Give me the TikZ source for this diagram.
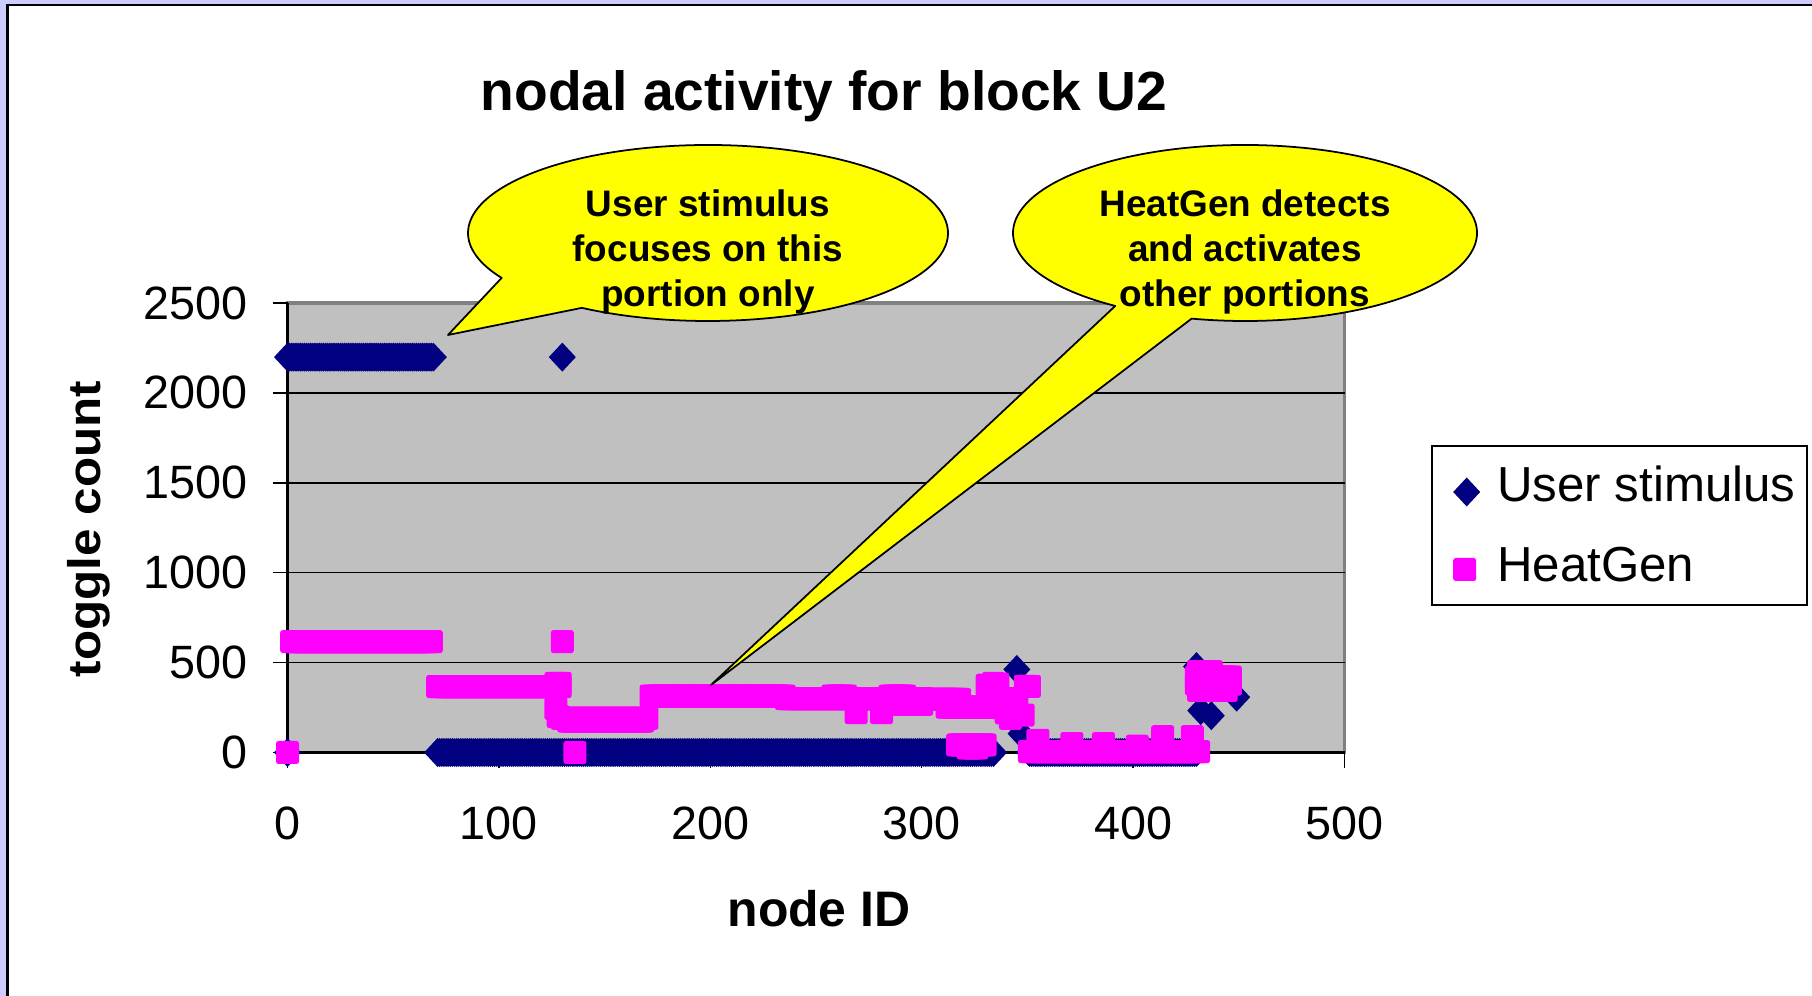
\documentclass[tikz,border=0pt]{standalone}
\usepackage{fontspec}
\setmainfont{Liberation Sans}
\usetikzlibrary{calc}
\definecolor{navyblue}{HTML}{000080}
\definecolor{hotpink}{HTML}{FF00FF}
\definecolor{plotgrey}{HTML}{C0C0C0}
\definecolor{rimgrey}{HTML}{808080}
\definecolor{slidelav}{HTML}{CCCCFF}
\definecolor{bubble}{HTML}{FFFF00}
\newcommand{\fs}[2]{\fontsize{#1}{#2}\selectfont}

\tikzset{
  usr/.pic={\fill[navyblue] (-0.135cm,0) -- (0,0.145cm) -- (0.135cm,0) -- (0,-0.145cm) -- cycle;},
  heat/.pic={\fill[hotpink, rounded corners=0.25mm] (-0.115cm,-0.115cm) rectangle (0.115cm,0.115cm);},
  ticklab/.style={inner sep=0pt, font=\fs{13.3}{16}},
  axtitle/.style={inner sep=0pt, font=\bfseries\fs{14.2}{17}},
  legtext/.style={inner sep=0pt, font=\fs{14}{17}, anchor=base west},
  saytext/.style={inner sep=0pt, align=center, font=\bfseries\fs{10.5}{12.8}},
  saybox/.style={fill=bubble, draw=black, line width=0.5pt, line join=round},
}

\begin{document}
\begin{tikzpicture}
  \useasboundingbox (0,0) rectangle (18.12,9.96);
  \fill[slidelav] (0,0) rectangle (18.12,9.96);
  \fill[white] (0.075,0) rectangle (18.12,9.91);
  \draw[line width=0.8pt] (0.075,0) -- (0.075,9.91) -- (18.12,9.91);

  \node[inner sep=0pt, font=\bfseries\fs{15.7}{19}, anchor=base] (title) at (8.24,8.85) {nodal activity for block U2};

  \coordinate (origin) at ( 2.875, 2.435);
  \coordinate (corner) at (13.445, 6.930);
  \fill[plotgrey] (origin) rectangle (corner);
  \draw[rimgrey, line width=0.9pt] (origin) rectangle (corner);
  \foreach \k in {1,...,4}
    \draw[line width=0.45pt] (2.875,2.435+0.899*\k) -- (13.445,2.435+0.899*\k);
  \draw[line width=0.6pt] (2.875,6.930) -- (origin) -- (13.445,2.435);

  \foreach \k/\lab in {0/0,1/500,2/1000,3/1500,4/2000,5/2500} {
    \draw[line width=0.45pt] (2.725,2.435+0.899*\k) -- (2.875,2.435+0.899*\k);
    \node[ticklab, anchor=east] (y\k) at (2.483,2.435+0.899*\k) {\lab};
  }
  \foreach \k/\lab in {0/0,1/100,2/200,3/300,4/400,5/500} {
    \draw[line width=0.45pt] (2.875+2.114*\k,2.435) -- (2.875+2.114*\k,2.28);
    \node[ticklab] (x\k) at (2.875+2.114*\k,1.73) {\lab};
  }

  \node[axtitle, anchor=base] (xtitle) at (8.19,0.69) {node ID};
  \node[inner sep=0pt, rotate=90, font=\bfseries\fs{13}{15}] (ytitle) at (0.89,4.67)
    {\scalebox{1.08}[1]{toggle count}};

  \begin{scope}[shift={(origin)}, x=0.2114mm, y=0.01798mm]
    \foreach \n in {0,...,69}    \pic at (\n,2200) {usr};
    \foreach \n in {71,...,334}  \pic at (\n,0)    {usr};
    \foreach \n in {351,...,430} \pic at (\n,0)    {usr};
    \foreach \n/\v in {0/0, 130/2200, 345/462, 347/105, 430/478, 432/233, 437/205, 449/308}
      \pic at (\n,\v) {usr};

    \foreach \n in {2,...,68}    \pic at (\n,617) {heat};
    \foreach \n in {71,...,129}  \pic at (\n,367) {heat};
    \foreach \n in {130,...,170} \pic at (\n,190) {heat};
    \foreach \n in {133,...,168} \pic at (\n,175) {heat};
    \foreach \n in {172,...,235} \pic at (\n,314) {heat};
    \foreach \n in {236,...,300} \pic at (\n,300) {heat};
    \foreach \n in {258,...,264} \pic at (\n,314) {heat};
    \foreach \n in {285,...,292} \pic at (\n,314) {heat};
    \foreach \n in {291,...,300} \pic at (\n,268) {heat};
    \foreach \n in {301,...,318} \pic at (\n,295) {heat};
    \foreach \n in {312,...,340} \pic at (\n,252) {heat};
    \foreach \n in {317,...,330} \pic at (\n,42)  {heat};
    \foreach \n in {322,...,326} \pic at (\n,25)  {heat};
    \foreach \n in {351,...,431} \pic at (\n,5)   {heat};
    \foreach \n in {431,...,437} \pic at (\n,450) {heat};
    \foreach \n in {430,...,446} \pic at (\n,420) {heat};
    \foreach \n in {430,...,446} \pic at (\n,380) {heat};
    \foreach \n in {431,...,444} \pic at (\n,345) {heat};
    \foreach \n/\v in {0/0, 130/617, 127/385, 129/385, 127/245, 128/200, 136/0,
                       269/222, 281/222, 331/375, 334/385, 336/380, 338/250, 340/220,
                       342/190, 345/300, 348/208, 349/368, 351/368,
                       355/68, 371/50, 386/50, 402/35, 414/88, 428/88}
      \pic at (\n,\v) {heat};
  \end{scope}

  \draw[line width=0.5pt] (14.323,3.91) rectangle (18.067,5.50);
  \pic at (14.667,5.040) {usr};
  \pic at (14.647,4.265) {heat};
  \node[legtext] (legusr)  at (14.967,4.943) {User stimulus};
  \node[legtext] (legheat) at (14.967,4.143) {HeatGen};

  \coordinate (cA)   at ( 7.08, 7.63);
  \coordinate (tipA) at ( 4.48, 6.61);
  \draw[saybox] ([shift={(238.3:2.40 and 0.88)}]cA)
    arc[start angle=238.3, end angle=570.7, x radius=2.40, y radius=0.88]
    -- (tipA) -- cycle;
  \node[saytext] (sayA) at (7.08,7.445) {User stimulus\\focuses on this\\portion only};

  \coordinate (cB)   at (12.45, 7.63);
  \coordinate (tipB) at ( 7.11, 3.11);
  \draw[saybox] ([shift={(256.7:2.32 and 0.88)}]cB)
    arc[start angle=256.7, end angle=596.0, x radius=2.32, y radius=0.88]
    -- (tipB) -- cycle;
  \node[saytext] (sayB) at (12.45,7.445) {HeatGen detects\\and activates\\other portions};
\end{tikzpicture}
\end{document}
